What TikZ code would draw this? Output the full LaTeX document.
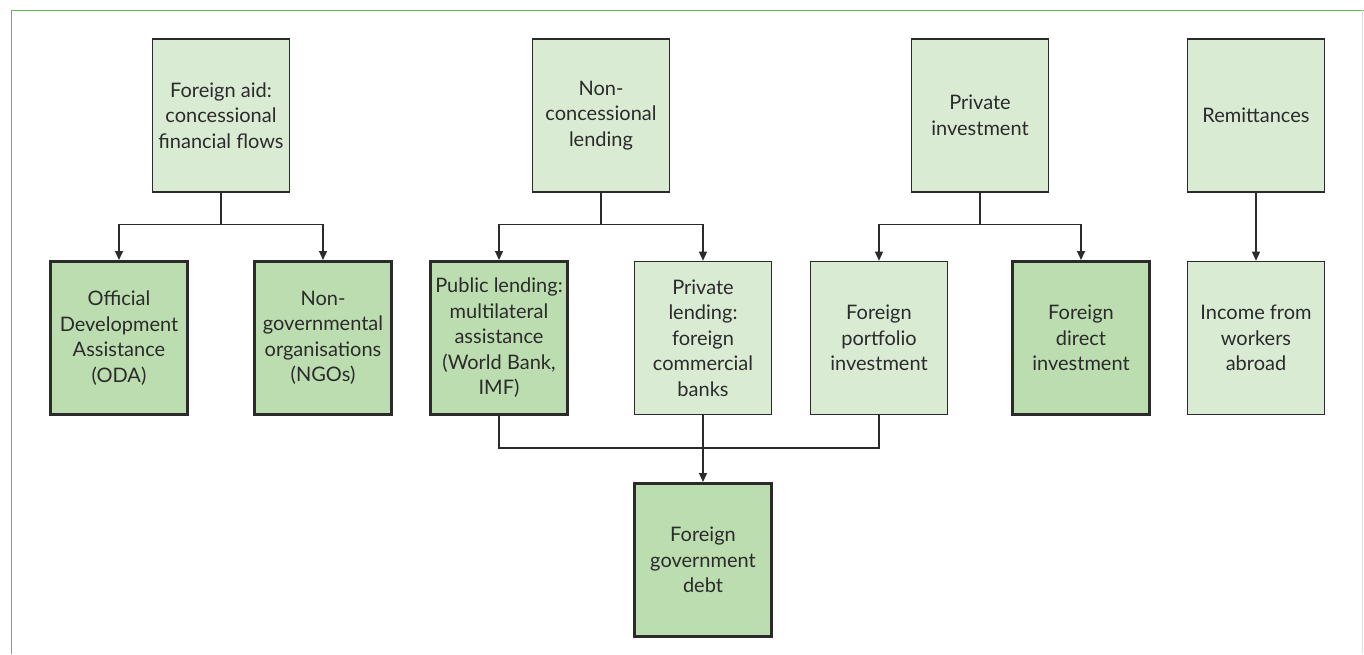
\documentclass[tikz,border=0pt]{standalone}
\usepackage{fontspec}
\setmainfont{Lato}
\usetikzlibrary{arrows.meta}
\definecolor{palegreen}{HTML}{DAEBD4}
\definecolor{midgreen}{HTML}{BCDDB0}
\definecolor{framegreen}{HTML}{5BBF4E}
\definecolor{boxline}{HTML}{2B2B2B}
\begin{document}
\begin{tikzpicture}[x=1pt,y=-1pt,line width=1.3pt,
  every node/.style={font=\fontsize{20}{25.5}\selectfont,align=center,inner sep=0pt,text=boxline},
  flow/.style={draw=boxline,line width=1.6pt,fill=palegreen,minimum width=137pt,minimum height=153pt},
  key/.style={flow,line width=3pt,fill=midgreen},
  link/.style={draw=boxline,line width=1.3pt},
  >={Triangle[length=9pt,width=8pt]}]
\useasboundingbox (0,0) rectangle (1364,654);
\draw[framegreen,line width=1pt] (11,654) -- (11,10) -- (1364,10);
\draw[black!12,line width=0.8pt] (1362,10) -- (1362,654);
% top row
\node[flow] (aid) at (221,115.5) {Foreign aid:\\concessional\\financial flows};
\node[flow] (loan) at (601,115.5) {Non-\\concessional\\lending};
\node[flow] (invest) at (980,115.5) {Private\\investment};
\node[flow] (remit) at (1256,115.5) {Remittances};
% second row
\node[key] (oda) at (119,338) {Official\\Development\\Assistance\\(ODA)};
\node[key] (ngo) at (323,338) {Non-\\governmental\\organisations\\(NGOs)};
\node[key] (public) at (499,338) {Public lending:\\multilateral\\assistance\\(World Bank,\\IMF)};
\node[flow] (private) at (703,338) {Private\\lending:\\foreign\\commercial\\banks};
\node[flow] (portfolio) at (879,338) {Foreign\\portfolio\\investment};
\node[key] (fdi) at (1081,338) {Foreign\\direct\\investment};
\node[flow] (income) at (1256,338) {Income from\\workers\\abroad};
% bottom
\node[key] (debt) at (703,560) {Foreign\\government\\debt};
% links
\draw[link,->] (aid.south) -- ++(0,32) -| (oda);
\draw[link,->] (aid.south) -- ++(0,32) -| (ngo);
\draw[link,->] (loan.south) -- ++(0,32) -| (public);
\draw[link,->] (loan.south) -- ++(0,32) -| (private);
\draw[link,->] (invest.south) -- ++(0,32) -| (portfolio);
\draw[link,->] (invest.south) -- ++(0,32) -| (fdi);
\draw[link,->] (remit) -- (income);
\draw[link] (public.south) -- ++(0,32) -| (portfolio.south);
\draw[link,->] (private) -- (debt);
\end{tikzpicture}
\end{document}
